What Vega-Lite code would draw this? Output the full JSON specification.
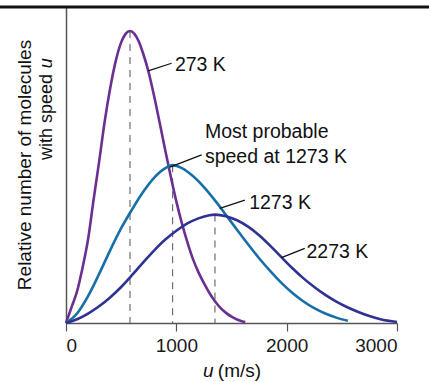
{
  "$schema": "https://vega.github.io/schema/vega-lite/v6.json",
  "width": 331,
  "height": 316,
  "autosize": {"type": "none"},
  "padding": {"left": 66, "top": 7, "right": 32, "bottom": 59},
  "config": {
    "font": "Liberation Sans",
    "view": {"stroke": null},
    "axis": {"grid": false}
  },
  "datasets": {
    "curves": [
      {"series": "273 K", "u": 0, "v": 0},
      {"series": "273 K", "u": 50, "v": 0.05},
      {"series": "273 K", "u": 100, "v": 0.10},
      {"series": "273 K", "u": 150, "v": 0.175},
      {"series": "273 K", "u": 200, "v": 0.265},
      {"series": "273 K", "u": 250, "v": 0.39},
      {"series": "273 K", "u": 300, "v": 0.51},
      {"series": "273 K", "u": 350, "v": 0.636},
      {"series": "273 K", "u": 400, "v": 0.742},
      {"series": "273 K", "u": 450, "v": 0.828},
      {"series": "273 K", "u": 500, "v": 0.888},
      {"series": "273 K", "u": 540, "v": 0.915},
      {"series": "273 K", "u": 580, "v": 0.924},
      {"series": "273 K", "u": 620, "v": 0.915},
      {"series": "273 K", "u": 660, "v": 0.891},
      {"series": "273 K", "u": 700, "v": 0.852},
      {"series": "273 K", "u": 750, "v": 0.792},
      {"series": "273 K", "u": 800, "v": 0.716},
      {"series": "273 K", "u": 850, "v": 0.632},
      {"series": "273 K", "u": 900, "v": 0.546},
      {"series": "273 K", "u": 950, "v": 0.463},
      {"series": "273 K", "u": 1000, "v": 0.385},
      {"series": "273 K", "u": 1050, "v": 0.316},
      {"series": "273 K", "u": 1100, "v": 0.256},
      {"series": "273 K", "u": 1150, "v": 0.203},
      {"series": "273 K", "u": 1200, "v": 0.161},
      {"series": "273 K", "u": 1250, "v": 0.126},
      {"series": "273 K", "u": 1300, "v": 0.095},
      {"series": "273 K", "u": 1350, "v": 0.069},
      {"series": "273 K", "u": 1400, "v": 0.048},
      {"series": "273 K", "u": 1450, "v": 0.032},
      {"series": "273 K", "u": 1500, "v": 0.02},
      {"series": "273 K", "u": 1550, "v": 0.011},
      {"series": "273 K", "u": 1600, "v": 0.005},
      {"series": "273 K", "u": 1625, "v": 0.003},
      {"series": "1273 K", "u": 0, "v": 0},
      {"series": "1273 K", "u": 100, "v": 0.03},
      {"series": "1273 K", "u": 200, "v": 0.085},
      {"series": "1273 K", "u": 300, "v": 0.155},
      {"series": "1273 K", "u": 400, "v": 0.23},
      {"series": "1273 K", "u": 500, "v": 0.3},
      {"series": "1273 K", "u": 600, "v": 0.36},
      {"series": "1273 K", "u": 700, "v": 0.415},
      {"series": "1273 K", "u": 800, "v": 0.46},
      {"series": "1273 K", "u": 900, "v": 0.49},
      {"series": "1273 K", "u": 966, "v": 0.4995},
      {"series": "1273 K", "u": 1050, "v": 0.49},
      {"series": "1273 K", "u": 1150, "v": 0.465},
      {"series": "1273 K", "u": 1250, "v": 0.43},
      {"series": "1273 K", "u": 1350, "v": 0.388},
      {"series": "1273 K", "u": 1450, "v": 0.342},
      {"series": "1273 K", "u": 1550, "v": 0.295},
      {"series": "1273 K", "u": 1650, "v": 0.249},
      {"series": "1273 K", "u": 1750, "v": 0.205},
      {"series": "1273 K", "u": 1850, "v": 0.165},
      {"series": "1273 K", "u": 1950, "v": 0.128},
      {"series": "1273 K", "u": 2050, "v": 0.096},
      {"series": "1273 K", "u": 2150, "v": 0.069},
      {"series": "1273 K", "u": 2250, "v": 0.047},
      {"series": "1273 K", "u": 2350, "v": 0.03},
      {"series": "1273 K", "u": 2450, "v": 0.017},
      {"series": "1273 K", "u": 2555, "v": 0.007},
      {"series": "2273 K", "u": 0, "v": 0},
      {"series": "2273 K", "u": 100, "v": 0.012},
      {"series": "2273 K", "u": 200, "v": 0.03},
      {"series": "2273 K", "u": 300, "v": 0.053},
      {"series": "2273 K", "u": 400, "v": 0.081},
      {"series": "2273 K", "u": 500, "v": 0.114},
      {"series": "2273 K", "u": 600, "v": 0.152},
      {"series": "2273 K", "u": 700, "v": 0.192},
      {"series": "2273 K", "u": 800, "v": 0.23},
      {"series": "2273 K", "u": 900, "v": 0.264},
      {"series": "2273 K", "u": 1000, "v": 0.292},
      {"series": "2273 K", "u": 1100, "v": 0.315},
      {"series": "2273 K", "u": 1200, "v": 0.331},
      {"series": "2273 K", "u": 1300, "v": 0.341},
      {"series": "2273 K", "u": 1350, "v": 0.343},
      {"series": "2273 K", "u": 1450, "v": 0.338},
      {"series": "2273 K", "u": 1550, "v": 0.325},
      {"series": "2273 K", "u": 1650, "v": 0.305},
      {"series": "2273 K", "u": 1750, "v": 0.278},
      {"series": "2273 K", "u": 1850, "v": 0.245},
      {"series": "2273 K", "u": 1950, "v": 0.209},
      {"series": "2273 K", "u": 2050, "v": 0.174},
      {"series": "2273 K", "u": 2150, "v": 0.142},
      {"series": "2273 K", "u": 2250, "v": 0.114},
      {"series": "2273 K", "u": 2350, "v": 0.089},
      {"series": "2273 K", "u": 2450, "v": 0.068},
      {"series": "2273 K", "u": 2550, "v": 0.05},
      {"series": "2273 K", "u": 2650, "v": 0.035},
      {"series": "2273 K", "u": 2750, "v": 0.022},
      {"series": "2273 K", "u": 2850, "v": 0.012},
      {"series": "2273 K", "u": 3000, "v": 0.003}
    ],
    "peaks": [
      {"series": "273 K", "u": 580, "v": 0.924},
      {"series": "1273 K", "u": 966, "v": 0.4995},
      {"series": "2273 K", "u": 1350, "v": 0.343}
    ],
    "leaders": [
      {"u": 745, "v": 0.798, "u2": 957, "v2": 0.822},
      {"u": 942, "v": 0.493, "u2": 1229, "v2": 0.532},
      {"u": 1394, "v": 0.363, "u2": 1621, "v2": 0.389},
      {"u": 1953, "v": 0.207, "u2": 2164, "v2": 0.236}
    ],
    "labels": [
      {"u": 987, "v": 0.798, "label": "273 K"},
      {"u": 1259, "v": 0.584, "label": "Most probable\nspeed at 1273 K"},
      {"u": 1660, "v": 0.361, "label": "1273 K"},
      {"u": 2180, "v": 0.207, "label": "2273 K"}
    ],
    "frame": [
      {"u": -600, "u2": 3400, "v": 1}
    ],
    "ytitle": [
      {"u": -371, "v": 0.5, "label": "Relative number of molecules"}
    ],
    "ytitle2": [
      {"u": -172, "v": 0.516, "label": "with speed"}
    ],
    "yitalicu": [
      {"u": -172, "v": 0.806, "label": "u"}
    ],
    "xitalicu": [
      {"u": 1241, "v": -0.171, "label": "u"}
    ],
    "xtitle": [
      {"u": 1376, "v": -0.171, "label": "(m/s)"}
    ]
  },
  "layer": [
    {
      "data": {"name": "frame"},
      "mark": {"type": "rule", "color": "#111111", "strokeWidth": 3},
      "encoding": {
        "x": {"field": "u", "type": "quantitative", "scale": {"domain": [0, 3000], "nice": false, "zero": false},
              "axis": {"values": [0, 1000, 2000, 3000], "format": "d", "title": null, "domainColor": "#555555", "domainWidth": 1.5, "tickColor": "#555555", "tickWidth": 1.2, "tickSize": 8, "labelFontSize": 19, "labelColor": "#1a1a1a", "labelPadding": 5, "labelFont": "Liberation Sans"}},
        "x2": {"field": "u2"},
        "y": {"field": "v", "type": "quantitative", "scale": {"domain": [0, 1], "nice": false},
              "axis": {"title": null, "labels": false, "ticks": false, "domainColor": "#555555", "domainWidth": 1.5}}
      }
    },
    {
      "data": {"name": "peaks"},
      "mark": {"type": "rule", "color": "#6e6e6e", "strokeWidth": 1.2, "strokeDash": [7, 6]},
      "encoding": {
        "x": {"field": "u", "type": "quantitative", "scale": {"domain": [0, 3000], "nice": false, "zero": false}},
        "y": {"field": "v", "type": "quantitative", "scale": {"domain": [0, 1], "nice": false}},
        "y2": {"datum": 0}
      }
    },
    {
      "data": {"name": "curves"},
      "mark": {"type": "line", "strokeWidth": 2.6, "interpolate": "monotone"},
      "encoding": {
        "x": {"field": "u", "type": "quantitative", "scale": {"domain": [0, 3000], "nice": false, "zero": false}},
        "y": {"field": "v", "type": "quantitative", "scale": {"domain": [0, 1], "nice": false}},
        "color": {"field": "series", "type": "nominal", "legend": null,
                  "scale": {"domain": ["273 K", "1273 K", "2273 K"], "range": ["#6b2f92", "#176fa8", "#2f3193"]}}
      }
    },
    {
      "data": {"name": "leaders"},
      "mark": {"type": "rule", "color": "#111111", "strokeWidth": 1.3},
      "encoding": {
        "x": {"field": "u", "type": "quantitative", "scale": {"domain": [0, 3000], "nice": false, "zero": false}},
        "y": {"field": "v", "type": "quantitative", "scale": {"domain": [0, 1], "nice": false}},
        "x2": {"field": "u2"},
        "y2": {"field": "v2"}
      }
    },
    {
      "data": {"name": "labels"},
      "mark": {"type": "text", "align": "left", "baseline": "alphabetic", "fontSize": 19.5, "color": "#111111", "lineBreak": "\n", "lineHeight": 25},
      "encoding": {
        "x": {"field": "u", "type": "quantitative", "scale": {"domain": [0, 3000], "nice": false, "zero": false}},
        "y": {"field": "v", "type": "quantitative", "scale": {"domain": [0, 1], "nice": false}},
        "text": {"field": "label", "type": "nominal"}
      }
    },
    {
      "data": {"name": "ytitle"},
      "mark": {"type": "text", "align": "center", "baseline": "middle", "angle": 270, "fontSize": 19, "color": "#111111"},
      "encoding": {
        "x": {"field": "u", "type": "quantitative", "scale": {"domain": [0, 3000], "nice": false, "zero": false}},
        "y": {"field": "v", "type": "quantitative", "scale": {"domain": [0, 1], "nice": false}},
        "text": {"field": "label", "type": "nominal"}
      }
    },
    {
      "data": {"name": "ytitle2"},
      "mark": {"type": "text", "align": "left", "baseline": "middle", "angle": 270, "fontSize": 18, "color": "#111111"},
      "encoding": {
        "x": {"field": "u", "type": "quantitative", "scale": {"domain": [0, 3000], "nice": false, "zero": false}},
        "y": {"field": "v", "type": "quantitative", "scale": {"domain": [0, 1], "nice": false}},
        "text": {"field": "label", "type": "nominal"}
      }
    },
    {
      "data": {"name": "yitalicu"},
      "mark": {"type": "text", "align": "left", "baseline": "middle", "angle": 270, "fontSize": 18, "fontStyle": "italic", "color": "#111111"},
      "encoding": {
        "x": {"field": "u", "type": "quantitative", "scale": {"domain": [0, 3000], "nice": false, "zero": false}},
        "y": {"field": "v", "type": "quantitative", "scale": {"domain": [0, 1], "nice": false}},
        "text": {"field": "label", "type": "nominal"}
      }
    },
    {
      "data": {"name": "xitalicu"},
      "mark": {"type": "text", "align": "left", "baseline": "alphabetic", "fontSize": 19, "fontStyle": "italic", "color": "#111111"},
      "encoding": {
        "x": {"field": "u", "type": "quantitative", "scale": {"domain": [0, 3000], "nice": false, "zero": false}},
        "y": {"field": "v", "type": "quantitative", "scale": {"domain": [0, 1], "nice": false}},
        "text": {"field": "label", "type": "nominal"}
      }
    },
    {
      "data": {"name": "xtitle"},
      "mark": {"type": "text", "align": "left", "baseline": "alphabetic", "fontSize": 19, "color": "#111111"},
      "encoding": {
        "x": {"field": "u", "type": "quantitative", "scale": {"domain": [0, 3000], "nice": false, "zero": false}},
        "y": {"field": "v", "type": "quantitative", "scale": {"domain": [0, 1], "nice": false}},
        "text": {"field": "label", "type": "nominal"}
      }
    }
  ]
}
